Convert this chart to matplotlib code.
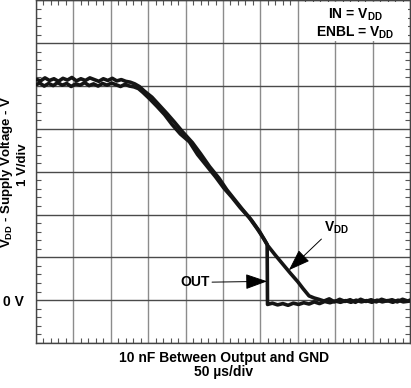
import matplotlib
matplotlib.use("Agg")
import matplotlib.pyplot as plt
from matplotlib.ticker import MultipleLocator
from matplotlib.patches import Rectangle

plt.rcParams["font.family"] = ["Liberation Sans", "DejaVu Sans"]
plt.rcParams["mathtext.fontset"] = "custom"
plt.rcParams["mathtext.rm"] = "Liberation Sans:bold"
plt.rcParams["mathtext.bf"] = "Liberation Sans:bold"

# ---- data (time in us, voltage in V) ----
t_vdd = [0, 6, 12, 18, 24, 30, 36, 42, 48, 54, 60, 66, 72, 78, 84, 90, 96, 102,
         108, 114, 120, 126, 132, 138, 145, 155, 165, 175, 185, 196, 209, 220,
         232, 245, 255, 265, 276, 288, 299, 310, 320, 330, 340, 350, 357, 365,
         372, 378, 385, 392, 399, 406, 413, 420, 427, 434, 441, 448, 455, 462,
         469, 476, 483, 490, 497, 500]
v_vdd = [5.16, 5.12, 5.19, 5.13, 5.17, 5.11, 5.18, 5.14, 5.20, 5.12, 5.17, 5.13,
         5.19, 5.15, 5.11, 5.17, 5.13, 5.18, 5.12, 5.15, 5.11, 5.09, 5.05, 4.99,
         4.88, 4.74, 4.55, 4.36, 4.16, 3.93, 3.68, 3.42, 3.12, 2.84, 2.58, 2.36,
         2.12, 1.87, 1.60, 1.27, 1.05, 0.84, 0.63, 0.43, 0.27, 0.10, 0.05, 0.02,
         -0.02, 0.03, -0.04, 0.02, -0.03, 0.01, -0.05, 0.02, -0.03, 0.01, -0.04,
         0.02, -0.02, 0.01, -0.04, 0.02, -0.02, 0.00]

t_out = [0, 5, 11, 17, 23, 29, 35, 41, 47, 53, 59, 65, 71, 77, 83, 89, 95, 101,
         107, 113, 119, 125, 131, 137, 143, 152, 162, 172, 182, 193, 205, 216,
         228, 240, 251, 262, 273, 285, 296, 305, 309, 309.5, 316, 323, 330, 337,
         344, 351, 358, 365, 372, 379, 386, 393, 400, 407, 414, 421, 428, 435,
         442, 449, 456, 463, 470, 477, 484, 491, 500]
v_out = [5.03, 5.07, 5.00, 5.06, 5.01, 5.08, 5.02, 5.06, 4.99, 5.05, 5.02, 5.08,
         5.01, 5.05, 5.00, 5.06, 5.02, 5.07, 5.03, 4.99, 5.04, 5.00, 4.98, 4.94,
         4.85, 4.70, 4.52, 4.33, 4.10, 3.88, 3.70, 3.40, 3.14, 2.88, 2.62, 2.40,
         2.16, 1.93, 1.66, 1.42, 1.30, -0.10, -0.07, -0.11, -0.08, -0.12, -0.07,
         -0.10, -0.06, -0.09, -0.04, -0.08, -0.03, -0.06, -0.02, -0.05, -0.01,
         -0.05, 0.00, -0.04, -0.01, -0.05, 0.00, -0.04, -0.01, -0.05, 0.00,
         -0.04, -0.02]

fig = plt.figure(figsize=(4.11, 3.88), dpi=100)
ax = fig.add_axes([0.0876, 0.116, 0.910, 0.883])

ax.plot(t_vdd, v_vdd, color="#151515", lw=2.6, solid_joinstyle="round", zorder=3)
ax.plot(t_out, v_out, color="#151515", lw=2.6, solid_joinstyle="round", zorder=3)

ax.set_xlim(0, 500)
ax.set_ylim(-1, 7)
ax.xaxis.set_major_locator(MultipleLocator(50))
ax.yaxis.set_major_locator(MultipleLocator(1))
ax.xaxis.set_minor_locator(MultipleLocator(10))
ax.yaxis.set_minor_locator(MultipleLocator(0.2))
ax.set_xticklabels([])
ax.set_yticks(range(-1, 8))
ax.set_yticklabels(["0 V" if v == 0 else "" for v in range(-1, 8)],
                   fontsize=10, fontweight="bold")
ax.tick_params(which="major", length=0, pad=9)
ax.tick_params(which="minor", direction="in", length=3.5, width=0.8,
               color="#555555", top=True, right=True, bottom=True, left=True)
ax.xaxis.grid(True, color="#8c8c8c", lw=1.0)
ax.yaxis.grid(True, color="#4a4a4a", lw=1.0)
for s in ax.spines.values():
    s.set_color("#444444")
    s.set_linewidth(1.0)

# condition box
ax.add_patch(Rectangle((0.706, 0.882), 0.289, 0.112, transform=ax.transAxes,
                       facecolor="white", edgecolor="none", zorder=2.5))
ax.text(0.853, 0.957, r"IN = V$_{\mathbf{DD}}$", transform=ax.transAxes,
        ha="center", va="center", fontsize=10, fontweight="bold", zorder=4)
ax.text(0.853, 0.905, r"ENBL = V$_{\mathbf{DD}}$", transform=ax.transAxes,
        ha="center", va="center", fontsize=10, fontweight="bold", zorder=4)

arrow = dict(arrowstyle="-|>,head_length=0.85,head_width=0.3", color="black",
             lw=0.7, mutation_scale=16, shrinkA=0, shrinkB=0)
ax.annotate(r"V$_{\mathbf{DD}}$", xy=(338, 0.70), xytext=(402, 1.68),
            ha="center", va="center", fontsize=10, fontweight="bold",
            arrowprops=dict(arrow, relpos=(0.0, 0.0)), zorder=4)
ax.annotate("OUT", xy=(309, 0.44), xytext=(212, 0.42),
            ha="center", va="center", fontsize=10, fontweight="bold",
            arrowprops=dict(arrow, relpos=(1.0, 0.5)), zorder=4)

fig.text(0.017, 0.557, r"V$_{\mathbf{DD}}$ - Supply Voltage - V", rotation=90,
         ha="center", va="center", fontsize=9.5, fontweight="bold")
fig.text(0.057, 0.575, "1 V/div", rotation=90,
         ha="center", va="center", fontsize=9.5, fontweight="bold")
fig.text(0.545, 0.077, "10 nF Between Output and GND",
         ha="center", va="center", fontsize=10, fontweight="bold")
fig.text(0.545, 0.041, "50 \u00b5s/div",
         ha="center", va="center", fontsize=10, fontweight="bold")

fig.savefig("out.png", dpi=100)
